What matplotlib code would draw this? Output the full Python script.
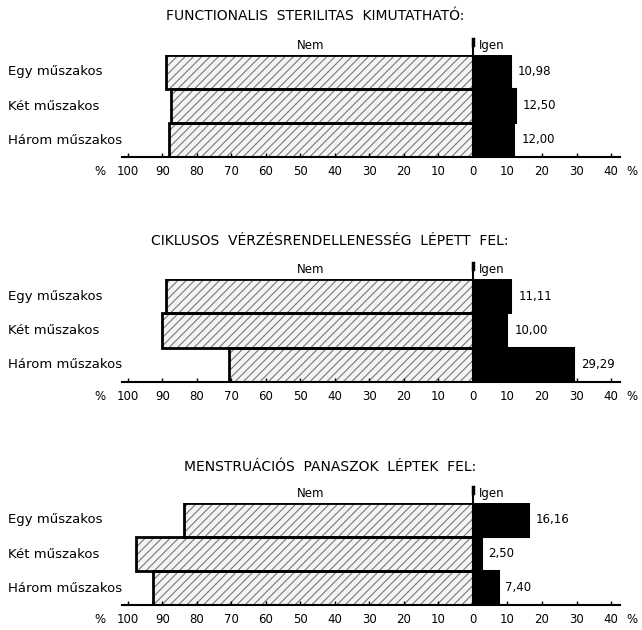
import matplotlib
matplotlib.use("Agg")
import matplotlib.pyplot as plt
from matplotlib.transforms import blended_transform_factory

plt.rcParams['font.family'] = ['DejaVu Sans']
plt.rcParams['hatch.linewidth'] = 0.8

categories = ["Egy műszakos", "Két műszakos", "Három műszakos"]
titles = ["FUNCTIONALIS  STERILITAS  KIMUTATHATÓ:",
          "CIKLUSOS  VÉRZÉSRENDELLENESSÉG  LÉPETT  FEL:",
          "MENSTRUÁCIÓS  PANASZOK  LÉPTEK  FEL:"]
igen_values = [[10.98, 12.50, 12.00],
               [11.11, 10.00, 29.29],
               [16.16, 2.50, 7.40]]
igen_labels = [["10,98", "12,50", "12,00"],
               ["11,11", "10,00", "29,29"],
               ["16,16", "2,50", "7,40"]]
tick_values = [-100, -90, -80, -70, -60, -50, -40, -30, -20, -10, 0, 10, 20, 30, 40]
tick_labels = ["100", "90", "80", "70", "60", "50", "40", "30", "20", "10",
               "0", "10", "20", "30", "40"]

W, H = 642, 630
fig = plt.figure(figsize=(W / 100, H / 100), dpi=100)

# panel layout in pixels: (bar top, axis line y, title y)
panels = [(55, 157, 16), (279, 382, 241), (503, 605, 467)]
title_x = [315, 330, 330]
ax_left, ax_right = 122, 620

for p, (top, bottom, ty) in enumerate(panels):
    ax = fig.add_axes([ax_left / W, 1 - bottom / H, (ax_right - ax_left) / W, (bottom - top) / H])
    igen = igen_values[p]
    nem = [100 - v for v in igen]
    ys = list(range(len(categories)))
    # hatched "Nem" bars
    ax.barh(ys, [-v for v in nem], height=1.0, color='#f4f4f4', edgecolor='#777777',
            hatch='////', linewidth=0)
    ax.barh(ys, [-v for v in nem], height=1.0, fill=False, edgecolor='black', linewidth=2)
    # black "Igen" bars
    ax.barh(ys, igen, height=1.0, color='black', edgecolor='black', linewidth=1.5)

    ax.set_xlim(-101.7, 42.6)
    ax.set_ylim(2.5, -0.5)
    for s in ['top', 'left', 'right']:
        ax.spines[s].set_visible(False)
    ax.spines['bottom'].set_linewidth(1.5)
    ax.set_yticks([])
    ax.set_xticks(tick_values)
    ax.set_xticklabels(tick_labels, fontsize=8.5)
    ax.tick_params(axis='x', direction='in', length=3, width=1, pad=6)

    # zero line extending above bars
    ax.plot([0, 0], [2.5, -0.95], color='black', linewidth=1.5, clip_on=False, zorder=5)
    ax.plot([0, 0], [-0.8, -0.97], color='black', linewidth=2.5, clip_on=False, zorder=5)

    ax.text(-47, -0.78, "Nem", fontsize=8.5, ha='center', va='center')
    ax.text(1.8, -0.78, "Igen", fontsize=8.5, ha='left', va='center')

    for y, v, lab in zip(ys, igen, igen_labels[p]):
        ax.annotate(lab, xy=(v, y), xytext=(5, 0), textcoords='offset points',
                    fontsize=8.5, ha='left', va='center')

    trans = blended_transform_factory(fig.transFigure, ax.transData)
    for y, c in zip(ys, categories):
        ax.text(8 / W, y, c, transform=trans, fontsize=9.5, ha='left', va='center')

    ax.annotate("%", xy=(-108, 0), xycoords=('data', 'axes fraction'), xytext=(0, -6),
                textcoords='offset points', fontsize=8.5, ha='center', va='top',
                annotation_clip=False)
    ax.annotate("%", xy=(46, 0), xycoords=('data', 'axes fraction'), xytext=(0, -6),
                textcoords='offset points', fontsize=8.5, ha='center', va='top',
                annotation_clip=False)

    fig.text(title_x[p] / W, 1 - ty / H, titles[p], fontsize=10, ha='center', va='center')

fig.savefig("out.png", dpi=100)
